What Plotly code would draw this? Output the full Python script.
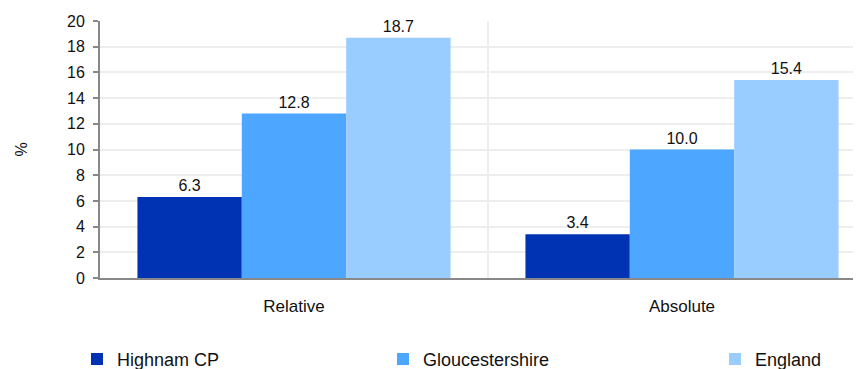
import plotly.graph_objects as go

categories = ["Relative", "Absolute"]
highnam = [6.3, 3.4]
gloucestershire = [12.8, 10.0]
england = [18.7, 15.4]
series_names = ["Highnam CP", "Gloucestershire", "England"]
colors = ["#0033B4", "#4DA6FF", "#99CCFF"]
y_ticks = list(range(0, 21, 2))

FONT = "Liberation Sans, Arial, sans-serif"

# page body has an 8px default margin, so figure coords = picture coords - 8
OFF = 8
W, H = 861, 369
ml = 100 - OFF
mt = 20.5 - OFF
mb = H - (278.5 - OFF)
mr = 0
pw = W - ml - mr
ph = H - mt - mb

def px_to_paper_x(px):
    return (px - OFF - ml) / pw

def px_to_paper_y(py):
    return (H - mb - (py - OFF)) / ph

fig = go.Figure()
legends = ["legend", "legend2", "legend3"]
for name, vals, col, lg in zip(series_names, [highnam, gloucestershire, england], colors, legends):
    fig.add_trace(go.Bar(
        x=categories, y=vals, name=name, marker=dict(color=col, line=dict(width=0)),
        text=[f"{v:.1f}" for v in vals], textposition="outside",
        textfont=dict(size=16, color="#111", family=FONT),
        cliponaxis=False, legend=lg, showlegend=True,
    ))

legend_common = dict(orientation="h", yanchor="middle", xanchor="left",
                     font=dict(size=18, color="#111", family=FONT),
                     bgcolor="rgba(0,0,0,0)", borderwidth=0, visible=True)

fig.update_layout(
    width=W, height=H,
    margin=dict(l=ml, r=mr, t=mt, b=mb, autoexpand=False),
    plot_bgcolor="white", paper_bgcolor="white",
    barmode="group", bargap=0.193, bargroupgap=0,
    showlegend=True,
    font=dict(family=FONT, size=16, color="#111"),
    legend=dict(x=px_to_paper_x(77), y=px_to_paper_y(360), **legend_common),
    legend2=dict(x=px_to_paper_x(383), y=px_to_paper_y(360), **legend_common),
    legend3=dict(x=px_to_paper_x(715), y=px_to_paper_y(360), **legend_common),
    xaxis=dict(
        type="category", categoryorder="array", categoryarray=categories,
        range=[-0.5, -0.5 + pw / 388.0],
        showline=True, linecolor="#888888", linewidth=2,
        ticks="", showgrid=False, ticklabelstandoff=12,
        tickfont=dict(size=17, color="#111", family=FONT),
    ),
    yaxis=dict(
        range=[0, 20], tickvals=y_ticks, ticktext=[str(t) for t in y_ticks],
        showline=True, linecolor="#888888", linewidth=2,
        ticks="outside", ticklen=5, tickcolor="#888888", tickwidth=1.5,
        gridcolor="#EEEEEE", gridwidth=2, zeroline=False, ticklabelstandoff=5,
        tickfont=dict(size=16, color="#111", family=FONT),
        title=dict(text="%", standoff=35, font=dict(size=16, color="#111", family=FONT)),
    ),
)

fig.add_shape(type="line", xref="x", yref="paper", x0=0.5, x1=0.5, y0=0, y1=1,
              line=dict(color="#EEEEEE", width=2), layer="below")

fig.write_html("out.html")
